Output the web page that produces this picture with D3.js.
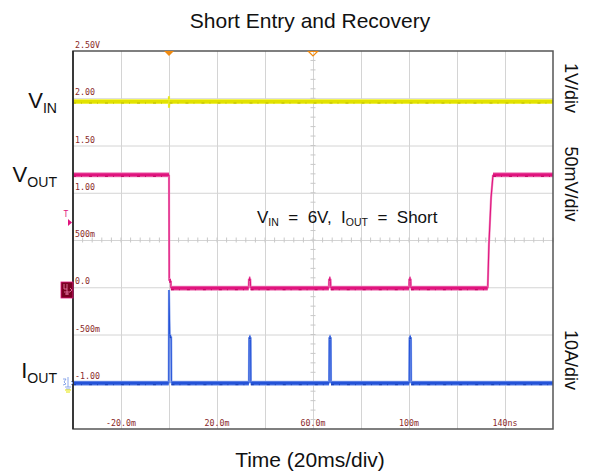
<!DOCTYPE html>
<html>
<head>
<meta charset="utf-8">
<script src="https://cdn.jsdelivr.net/npm/d3@7/dist/d3.min.js"></script>
<style>
  html, body { margin: 0; padding: 0; background: #ffffff; }
  svg { display: block; font-family: "Liberation Sans", Arial, sans-serif; }
</style>
</head>
<body>
<svg id="chart" width="593" height="474"></svg>
<script>
// Time axis (ms) and on-screen level scale, as printed on the scope screen
const timeTicks = [-20, 20, 60, 100, 140];
const timeTickLabels = ["-20.0m", "20.0m", "60.0m", "100m", "140ns"];
const levelTicks = [2.5, 2.0, 1.5, 1.0, 0.5, 0.0, -0.5, -1.0];
const levelTickLabels = ["2.50V", "2.00", "1.50", "1.00", "500m", "0.0", "-500m", "-1.00"];

// VIN trace (yellow)
const vinTime  = [-40, -0.2, 0.0, 0.0, 0.2, 160];
const vinLevel = [1.965, 1.965, 2.02, 1.90, 1.965, 1.965];

// VOUT trace (magenta): drop at short entry, hiccup glitches, recovery
const voutTime  = [-40, 0.0, 0.05, 0.1, 0.8, 0.8, 33.2, 33.3, 33.9, 34.0, 66.6, 66.7, 67.3, 67.4, 100.0, 100.1, 100.7, 100.8, 132.8, 133.3, 134.2, 135.0, 160];
const voutLevel = [1.19, 1.19, 0.55, 0.07, 0.07, -0.01, -0.01, 0.09, 0.09, -0.01, -0.01, 0.09, 0.09, -0.01, -0.01, 0.09, 0.09, -0.01, -0.01, 0.45, 0.95, 1.19, 1.19];

// IOUT trace (blue): inrush spike then hiccup current pulses
const ioutTime  = [-40, -0.1, 0.0, 0.3, 0.4, 0.9, 1.0, 33.3, 33.4, 34.0, 34.1, 66.7, 66.8, 67.4, 67.5, 100.1, 100.2, 100.8, 100.9, 160];
const ioutLevel = [-1.015, -1.015, -0.03, -0.52, -0.52, -0.52, -1.015, -1.015, -0.53, -0.53, -1.015, -1.015, -0.53, -0.53, -1.015, -1.015, -0.53, -0.53, -1.015, -1.015];

const svg = d3.select("#chart");
const plot = { left: 73, right: 553, top: 51, bottom: 429 };

const x = d3.scaleLinear().domain([-40, 160]).range([plot.left, plot.right]);
const y = d3.scaleLinear().domain([-1.5, 2.5]).range([plot.bottom, plot.top]);

// Title and axis caption
svg.append("text").attr("x", 310).attr("y", 28).attr("text-anchor", "middle")
  .attr("font-size", 21).attr("fill", "#111").text("Short Entry and Recovery");
svg.append("text").attr("x", 310).attr("y", 467).attr("text-anchor", "middle")
  .attr("font-size", 21).attr("fill", "#111").text("Time (20ms/div)");

// Graticule
const gridX = d3.range(-40, 161, 20).filter(v => v > -40 && v < 160);
const gridY = d3.range(-1.5, 2.51, 0.5).filter(v => v > -1.5 && v < 2.5);

const gx = svg.append("g").attr("transform", `translate(0,${plot.bottom})`)
  .call(d3.axisBottom(x).tickValues(gridX).tickSize(-(plot.bottom - plot.top)).tickFormat(""));
const gy = svg.append("g").attr("transform", `translate(${plot.left},0)`)
  .call(d3.axisLeft(y).tickValues(gridY).tickSize(-(plot.right - plot.left)).tickFormat(""));
[gx, gy].forEach(g => {
  g.select(".domain").remove();
  g.selectAll(".tick line").attr("stroke", "#d4d4d4").attr("stroke-width", 1);
});

// Minor ticks on centre lines
const minorG = svg.append("g").attr("stroke", "#c8c8c8").attr("stroke-width", 1);
const xCenter = x(60), yCenter = y(0.5);
d3.range(-40, 160.01, 4).forEach(t => {
  minorG.append("line").attr("x1", x(t)).attr("x2", x(t)).attr("y1", yCenter - 2.5).attr("y2", yCenter + 2.5);
});
d3.range(-1.5, 2.501, 0.1).forEach(v => {
  minorG.append("line").attr("x1", xCenter - 2.5).attr("x2", xCenter + 2.5).attr("y1", y(v)).attr("y2", y(v));
});

// Level tick labels
const lblFont = "'DejaVu Sans Mono', 'Liberation Mono', monospace";
svg.append("g").selectAll("text").data(levelTicks).join("text")
  .attr("x", plot.left + 2).attr("y", d => y(d) - 3)
  .attr("font-family", lblFont).attr("font-size", 8.3).attr("fill", "#8a2a2a")
  .text((d, i) => levelTickLabels[i]);

// Time tick labels
svg.append("g").selectAll("text").data(timeTicks).join("text")
  .attr("x", d => x(d)).attr("y", plot.bottom - 3).attr("text-anchor", "middle")
  .attr("font-family", lblFont).attr("font-size", 8.3).attr("fill", "#8a2a2a")
  .text((d, i) => timeTickLabels[i]);

// Traces: flat runs are drawn as a thick phosphor band, fast edges as thin strokes
function trace(times, levels, halo, main, accent) {
  const pts = times.map((t, i) => [x(t), y(levels[i])]);
  const g = svg.append("g").attr("fill", "none");
  const steep = [], flat = [];
  for (let i = 1; i < pts.length; i++) {
    const a = pts[i - 1], b = pts[i];
    const dx = Math.abs(b[0] - a[0]), dy = Math.abs(b[1] - a[1]);
    (dy > dx * 2 && dy > 3 ? steep : flat).push([a, b]);
  }
  const seg = s => `M${s[0][0]},${s[0][1]}L${s[1][0]},${s[1][1]}`;
  const steepD = steep.map(seg).join("");
  const flatD = flat.map(seg).join("");
  g.append("path").attr("d", steepD).attr("stroke", halo).attr("stroke-width", 2.2);
  g.append("path").attr("d", steepD).attr("stroke", main).attr("stroke-width", 1.1);
  g.append("path").attr("d", flatD).attr("stroke", halo).attr("stroke-width", 5).attr("stroke-linecap", "butt");
  g.append("path").attr("d", flatD).attr("stroke", main).attr("stroke-width", 3.2).attr("stroke-linecap", "butt");
  g.append("path").attr("d", flatD).attr("stroke", accent).attr("stroke-width", 1)
    .attr("stroke-dasharray", "3 5 1 7").attr("transform", "translate(0,1.5)");
}
trace(vinTime, vinLevel, "#f2f25a", "#e2e200", "#b8b800");
trace(voutTime, voutLevel, "#f08cc0", "#e0147e", "#c0005e");
trace(ioutTime, ioutLevel, "#8ea8ee", "#2453d8", "#1a3fb0");

// Frame
svg.append("rect").attr("x", plot.left).attr("y", plot.top)
  .attr("width", plot.right - plot.left).attr("height", plot.bottom - plot.top)
  .attr("fill", "none").attr("stroke", "#555").attr("stroke-width", 1.5);
svg.append("line").attr("x1", plot.left).attr("x2", plot.left).attr("y1", plot.top).attr("y2", plot.bottom)
  .attr("stroke", "#222").attr("stroke-width", 1.5);

// Trigger position (filled) and time reference (hollow) markers
const tx = x(0);
svg.append("path").attr("d", `M${tx - 5},${plot.top} L${tx + 5},${plot.top} L${tx},${plot.top + 5} Z`)
  .attr("fill", "#f08a10");
svg.append("path").attr("d", `M${xCenter - 4.5},${plot.top + 0.5} L${xCenter + 4.5},${plot.top + 0.5} L${xCenter},${plot.top + 5} Z`)
  .attr("fill", "none").attr("stroke", "#f08a10").attr("stroke-width", 1.2);

// Trigger level marker
svg.append("text").attr("x", 66).attr("y", 217).attr("text-anchor", "middle")
  .attr("font-family", lblFont).attr("font-size", 8).attr("fill", "#e0147e").text("T");
svg.append("path").attr("d", "M68,219 L72,222.5 L68,226 Z").attr("fill", "#e0147e");

// Channel ground markers
const gnd2 = svg.append("g");
gnd2.append("rect").attr("x", 61).attr("y", 282).attr("width", 12).attr("height", 16)
  .attr("fill", "#7a0022").attr("stroke", "#e0147e").attr("stroke-width", 0.8);
gnd2.append("path").attr("d", "M64,284 L64,289 L67,289 M67,284 L67,295 M64,292 L70,292 M65,294 L69,294 M70,288 L72,290 L70,292")
  .attr("stroke", "#f080b0").attr("stroke-width", 0.8).attr("fill", "none");
const gnd3 = svg.append("g");
gnd3.append("path").attr("d", "M63,379 L66,379 L64,382 L66,384 L63,385 M68,377 L68,387 M65,387 L71,387 M66,389 L70,389 M71,381 L73,383 L71,385")
  .attr("stroke", "#7f9ee8").attr("stroke-width", 0.9).attr("fill", "none");
gnd3.append("path").attr("d", "M65,390 L71,390 M66,392 L70,392").attr("stroke", "#e4e400").attr("stroke-width", 1);

// Channel labels (left)
function subLabel(xPos, yPos, main, sub, size, anchor) {
  const t = svg.append("text").attr("x", xPos).attr("y", yPos).attr("text-anchor", anchor)
    .attr("font-size", size).attr("fill", "#111");
  t.append("tspan").text(main);
  t.append("tspan").attr("font-size", size * 0.64).attr("dy", size * 0.22).text(sub);
  return t;
}
subLabel(57, 108, "V", "IN", 22, "end");
subLabel(57, 182, "V", "OUT", 22, "end");
subLabel(57, 378, "I", "OUT", 22, "end");

// Scale labels (right, rotated)
[["1V/div", 88], ["50mV/div", 184], ["10A/div", 360]].forEach(([txt, cy]) => {
  svg.append("text").attr("transform", `translate(565,${cy}) rotate(90)`)
    .attr("text-anchor", "middle").attr("font-size", 18).attr("fill", "#111").text(txt);
});

// Test condition annotation
const ann = svg.append("text").attr("x", 257).attr("y", 223).attr("font-size", 17).attr("fill", "#111")
  .attr("xml:space", "preserve");
ann.append("tspan").text("V");
ann.append("tspan").attr("font-size", 10.5).attr("dy", 3).text("IN");
ann.append("tspan").attr("dy", -3).text("  =  6V,  I");
ann.append("tspan").attr("font-size", 10.5).attr("dy", 3).text("OUT");
ann.append("tspan").attr("dy", -3).text("  =  Short");
</script>
</body>
</html>
